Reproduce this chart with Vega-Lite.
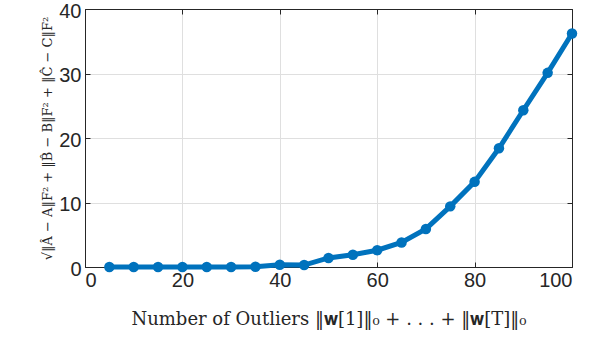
{
  "$schema": "https://vega.github.io/schema/vega-lite/v6.json",
  "autosize": "none",
  "width": 487,
  "height": 258,
  "padding": {"left": 85, "top": 9, "right": 20, "bottom": 74},
  "background": "white",
  "config": {
    "view": {"stroke": "#262626", "strokeWidth": 1},
    "axis": {
      "labelFont": "Liberation Sans",
      "labelFontSize": 20,
      "labelColor": "#262626",
      "domainColor": "#262626",
      "tickColor": "#262626",
      "tickSize": -5,
      "gridColor": "#dfdfdf",
      "gridWidth": 1,
      "titleFont": "DejaVu Serif",
      "titleFontWeight": "normal",
      "titleColor": "#262626"
    }
  },
  "data": {
    "values": [
      {"n": 5, "err": 0.0},
      {"n": 10, "err": 0.0},
      {"n": 15, "err": 0.0},
      {"n": 20, "err": 0.0},
      {"n": 25, "err": 0.0},
      {"n": 30, "err": 0.0},
      {"n": 35, "err": 0.05},
      {"n": 40, "err": 0.35},
      {"n": 45, "err": 0.3},
      {"n": 50, "err": 1.4},
      {"n": 55, "err": 1.9},
      {"n": 60, "err": 2.6},
      {"n": 65, "err": 3.8},
      {"n": 70, "err": 5.9},
      {"n": 75, "err": 9.4},
      {"n": 80, "err": 13.2},
      {"n": 85, "err": 18.4},
      {"n": 90, "err": 24.3},
      {"n": 95, "err": 30.1},
      {"n": 100, "err": 36.2}
    ]
  },
  "layer": [
    {
      "mark": {"type": "line", "color": "#0072BD", "strokeWidth": 5, "point": {"filled": true, "size": 110, "color": "#0072BD"}},
      "encoding": {
        "x": {
          "field": "n", "type": "quantitative",
          "scale": {"domain": [0, 100], "nice": false},
          "axis": {"values": [0, 20, 40, 60, 80, 100], "labelPadding": 8, "titleFontSize": 18, "titlePadding": 20,
                   "title": "Number of Outliers ‖𝐰[1]‖₀ + . . . + ‖𝐰[T]‖₀"}
        },
        "y": {
          "field": "err", "type": "quantitative",
          "scale": {"domain": [0, 40], "nice": false},
          "axis": {"values": [0, 10, 20, 30, 40], "labelPadding": 9, "labelOffset": 2, "titleFontSize": 13, "titlePadding": 4,
                   "title": "√‖Â − A‖F² + ‖B̂ − B‖F² + ‖Ĉ − C‖F²"}
        }
      }
    },
    {
      "mark": {"type": "point", "opacity": 0},
      "encoding": {
        "x": {"field": "n", "type": "quantitative", "scale": {"domain": [0, 100], "nice": false},
              "axis": {"orient": "top", "values": [0, 20, 40, 60, 80, 100], "labels": false, "grid": false, "title": null}},
        "y": {"field": "err", "type": "quantitative", "scale": {"domain": [0, 40], "nice": false},
              "axis": {"orient": "right", "values": [0, 10, 20, 30, 40], "labels": false, "grid": false, "title": null}}
      }
    }
  ],
  "resolve": {"axis": {"x": "independent", "y": "independent"}}
}
